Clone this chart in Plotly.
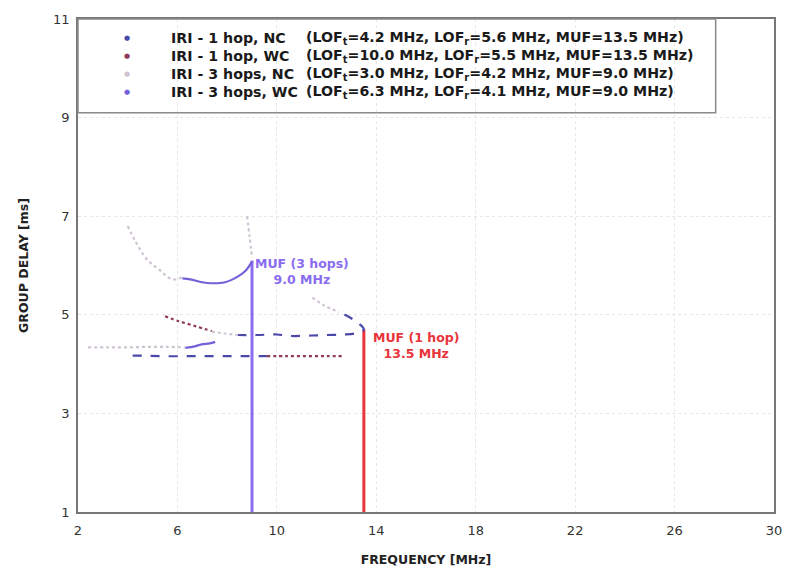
import plotly.graph_objects as go

# ---------------- data ----------------
series_names = ["IRI - 1 hop, NC", "IRI - 1 hop, WC", "IRI - 3 hops, NC", "IRI - 3 hops, WC"]
series_params = [
    "(LOF<sub>t</sub>=4.2 MHz, LOF<sub>r</sub>=5.6 MHz, MUF=13.5 MHz)",
    "(LOF<sub>t</sub>=10.0 MHz, LOF<sub>r</sub>=5.5 MHz, MUF=13.5 MHz)",
    "(LOF<sub>t</sub>=3.0 MHz, LOF<sub>r</sub>=4.2 MHz, MUF=9.0 MHz)",
    "(LOF<sub>t</sub>=6.3 MHz, LOF<sub>r</sub>=4.1 MHz, MUF=9.0 MHz)",
]
series_colors = ["#4a48a8", "#8e3a58", "#cfc4d2", "#7460d8"]

# IRI - 1 hop, NC  (None separates branches)
nc1_freq = [8.4, 9.2, 10.0, 10.6, 11.4, 12.0, 12.7, 13.2, 13.5, 13.2, 12.7, None,
            4.2, 4.8, 5.5, 6.3, 7.0, 7.8, 8.6, 9.6]
nc1_delay = [4.59, 4.59, 4.60, 4.57, 4.58, 4.59, 4.60, 4.63, 4.70, 4.86, 5.01, None,
             4.17, 4.17, 4.16, 4.16, 4.16, 4.16, 4.16, 4.16]
# IRI - 1 hop, WC
wc1_freq = [5.5, 6.06, 6.72, 7.38, None, 9.6, 10.4, 11.2, 12.0, 12.7]
wc1_delay = [4.97, 4.87, 4.77, 4.67, None, 4.16, 4.16, 4.16, 4.16, 4.16]
# IRI - 3 hops, NC
nc3_freq = [4.0, 4.3, 4.78, 5.26, 5.78, 6.2, None, 8.8, 8.9, 9.0, None,
            2.4, 3.2, 4.0, 4.8, 5.6, 6.3, None, 7.38, 7.9, 8.44, None, 11.43, 11.9, 12.5]
nc3_delay = [6.80, 6.50, 6.12, 5.92, 5.72, 5.76, None, 7.00, 6.60, 6.15, None,
             4.34, 4.34, 4.34, 4.35, 4.35, 4.34, None, 4.66, 4.62, 4.59, None, 5.35, 5.19, 5.05]
# IRI - 3 hops, WC
wc3_freq = [6.2, 6.52, 7.0, 7.38, 7.91, 8.44, 8.75, 9.0, None, 6.32, 6.7, 6.97, 7.3, 7.52]
wc3_delay = [5.74, 5.72, 5.66, 5.64, 5.66, 5.78, 5.90, 6.08, None, 4.33, 4.36, 4.40, 4.42, 4.45]

# MUF markers
muf_freq = [9.0, 13.5]
muf_delay_top = [6.1, 4.7]
muf_colors = ["#8a6cf0", "#e8343a"]
muf_labels = ["MUF (3 hops)<br>9.0 MHz", "MUF (1 hop)<br>13.5 MHz"]
muf_label_x = [11.0, 15.6]
muf_label_y = [5.87, 4.38]

x_ticks = [2, 6, 10, 14, 18, 22, 26, 30]
y_ticks = [1, 3, 5, 7, 9, 11]

FONT = "DejaVu Sans"

fig = go.Figure()

# vertical MUF lines
for f, top, c in zip(muf_freq, muf_delay_top, muf_colors):
    fig.add_trace(go.Scatter(x=[f, f], y=[1, top], mode="lines",
                             line=dict(color=c, width=3), showlegend=False, hoverinfo="skip"))

curve_data = [(nc1_freq, nc1_delay, "dash"), (wc1_freq, wc1_delay, "dot"),
              (nc3_freq, nc3_delay, "dot"), (wc3_freq, wc3_delay, "solid")]
for (xs, ys, dash), name, col in zip(curve_data, series_names, series_colors):
    fig.add_trace(go.Scatter(x=xs, y=ys, mode="lines", name=name,
                             line=dict(color=col, width=2.2, dash=dash, shape="spline"),
                             connectgaps=False, showlegend=False))

# MUF labels
annotations = []
for lx, ly, txt, c in zip(muf_label_x, muf_label_y, muf_labels, muf_colors):
    annotations.append(dict(x=lx, y=ly, xref="x", yref="y", text="<b>" + txt + "</b>",
                            showarrow=False, font=dict(family=FONT, size=12.5, color=c),
                            align="center"))

# legend (box + rows)
plot_top_px = 19
plot_h = 494
row_px = [38, 56, 74, 92]
for i, (nm, pr, col) in enumerate(zip(series_names, series_params, series_colors)):
    yp = 1 - (row_px[i] - plot_top_px) / plot_h
    annotations.append(dict(x=(128 - 78) / 704, y=yp, xref="paper", yref="paper",
                            text="●", showarrow=False, xanchor="center", yanchor="middle",
                            font=dict(family=FONT, size=7, color=col)))
    annotations.append(dict(x=(170 - 78) / 704, y=yp, xref="paper", yref="paper",
                            text="<b>" + nm + "</b>", showarrow=False, xanchor="left",
                            yanchor="middle", font=dict(family=FONT, size=14.2, color="#1a1a1a")))
    annotations.append(dict(x=(307 - 78) / 704, y=yp, xref="paper", yref="paper",
                            text="<b>" + pr + "</b>", showarrow=False, xanchor="left",
                            yanchor="middle", font=dict(family=FONT, size=14.2, color="#1a1a1a")))

shapes = [dict(type="rect", xref="paper", yref="paper", x0=0, x1=(723 - 78) / 704,
               y0=1 - (113 - plot_top_px) / plot_h, y1=1,
               line=dict(color="#8a8a8a", width=1.5), fillcolor="rgba(0,0,0,0)")]

fig.update_layout(
    width=794, height=577,
    margin=dict(l=78, r=12, t=19, b=64),
    paper_bgcolor="white", plot_bgcolor="white",
    font=dict(family=FONT, color="#222"),
    showlegend=False,
    annotations=annotations,
    shapes=shapes,
    xaxis=dict(range=[2, 30], tickvals=x_ticks, ticks="", showline=True, mirror=True,
               linecolor="#777", linewidth=1.5, showgrid=True, gridcolor="#e6e6e6",
               griddash="dot", zeroline=False, ticklabelstandoff=6,
               tickfont=dict(family=FONT, size=13, color="#333"),
               title=dict(text="<b>FREQUENCY [MHz]</b>", font=dict(family=FONT, size=12.5, color="#222"),
                          standoff=18)),
    yaxis=dict(range=[1, 11], tickvals=y_ticks, ticks="", showline=True, mirror=True,
               linecolor="#777", linewidth=1.5, showgrid=True, gridcolor="#e6e6e6",
               griddash="dot", zeroline=False, ticklabelstandoff=4,
               tickfont=dict(family=FONT, size=13, color="#333"),
               title=dict(text="<b>GROUP DELAY [ms]</b>", font=dict(family=FONT, size=12.5, color="#222"),
                          standoff=22)),
)

fig.write_html("out.html")
